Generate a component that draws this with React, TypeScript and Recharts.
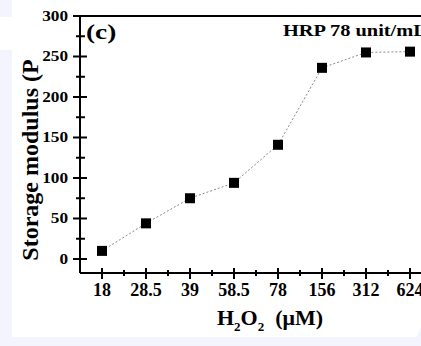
import React from 'react';
import { LineChart, Line, XAxis, YAxis, ReferenceLine } from 'recharts';

// H2O2 concentrations (uM), plotted as evenly spaced categories
const concentrations = ['18', '28.5', '39', '58.5', '78', '156', '312', '624'];
// storage modulus (Pa)
const storageModulus = [10, 44, 75, 94, 141, 236, 255, 256];

const yTicks = [0, 25, 50, 75, 100, 125, 150, 175, 200, 225, 250, 275, 300];
const xTicks = [0, 0.5, 1, 1.5, 2, 2.5, 3, 3.5, 4, 4.5, 5, 5.5, 6, 6.5, 7];

const data = concentrations.map((c, i) => ({ idx: i, conc: c, modulus: storageModulus[i] }));

const FONT = '"Liberation Serif", "Times New Roman", serif';

const XTick = ({ x, y, payload }: any) => {
  const major = Number.isInteger(payload.value);
  return (
    <g>
      <line x1={x} x2={x} y1={major ? y - 5 : y - 3} y2={major ? y + 6 : y + 3} stroke="#000" strokeWidth={2} />
      {major && (
        <text x={x} y={y + 23} textAnchor="middle" fontFamily={FONT} fontWeight="bold" fontSize={18} fill="#000">
          {concentrations[payload.value]}
        </text>
      )}
    </g>
  );
};

const YTick = ({ x, y, payload }: any) => {
  const major = payload.value % 50 === 0;
  return (
    <g>
      <line x1={major ? x - 7 : x - 4} x2={major ? x + 7 : x + 5} y1={y} y2={y} stroke="#000" strokeWidth={2} />
      {major && (
        <text
          transform={`translate(${x - 12}, ${y + 5}) scale(1.15, 1)`}
          textAnchor="end"
          fontFamily={FONT}
          fontWeight="bold"
          fontSize={15}
          fill="#000"
        >
          {payload.value}
        </text>
      )}
    </g>
  );
};

const SquareDot = ({ cx, cy }: any) => (
  <rect x={cx - 5} y={cy - 5} width={10} height={10} fill="#000" />
);

const App: React.FC = () => {
  return (
    <div style={{ position: 'absolute', left: 0, top: 0, width: 421, height: 346, overflow: 'hidden', background: '#f3f4fd' }}>
      {/* white figure panel */}
      <div style={{ position: 'absolute', left: 12, top: 0, width: 409, height: 337, background: '#fff', clipPath: 'polygon(0 0, 100% 0, 100% 97%, 99% 100%, 0 100%)' }} />
      <div style={{ position: 'absolute', left: 0, top: 17, width: 12, height: 33, background: '#fff' }} />
      <div style={{ position: 'absolute', left: 0, top: 0 }}>
        <LineChart width={421} height={346} data={data} margin={{ top: 16, right: 0, bottom: 0, left: 0 }}>
          <XAxis
            dataKey="idx"
            type="number"
            domain={[-0.5, 7.25]}
            ticks={xTicks}
            interval={0}
            height={73}
            tickSize={0}
            tickMargin={0}
            tickLine={false}
            tick={<XTick />}
            axisLine={{ stroke: '#000', strokeWidth: 2 }}
            allowDataOverflow
          />
          <YAxis
            type="number"
            domain={[-17.3, 300]}
            ticks={yTicks}
            interval={0}
            width={80}
            tickSize={0}
            tickMargin={0}
            tickLine={false}
            tick={<YTick />}
            axisLine={{ stroke: '#000', strokeWidth: 2 }}
            allowDataOverflow
          />
          <ReferenceLine y={300} stroke="#000" strokeWidth={2} />
          <Line
            dataKey="modulus"
            stroke="#8a8a8a"
            strokeWidth={1}
            strokeDasharray="2 2"
            dot={<SquareDot />}
            activeDot={false}
            isAnimationActive={false}
          />
        </LineChart>
      </div>
      <svg width={421} height={346} style={{ position: 'absolute', left: 0, top: 0, pointerEvents: 'none' }}>
        <text transform="translate(86, 39) scale(1.3, 1)" fontFamily={FONT} fontWeight="bold" fontSize={21} fill="#000">(c)</text>
        <text transform="translate(283, 36) scale(1.2, 1)" fontFamily={FONT} fontWeight="bold" fontSize={17} fill="#000">HRP 78 unit/mL</text>
        <text
          x={30}
          y={160}
          transform="rotate(-90, 30, 160)"
          textAnchor="middle"
          dominantBaseline="central"
          fontFamily={FONT}
          fontWeight="bold"
          fontSize={24}
          fill="#000"
        >
          Storage modulus (P
        </text>
        <text x={270} y={325} textAnchor="middle" fontFamily={FONT} fontWeight="bold" fontSize={22} fill="#000">
          H<tspan fontSize={13} dy={6}>2</tspan>
          <tspan dy={-6}>O</tspan>
          <tspan fontSize={13} dy={6}>2</tspan>
          <tspan dy={-6}>{'\u00a0\u00a0(\u03bcM)'}</tspan>
        </text>
      </svg>
    </div>
  );
};

export default App;
